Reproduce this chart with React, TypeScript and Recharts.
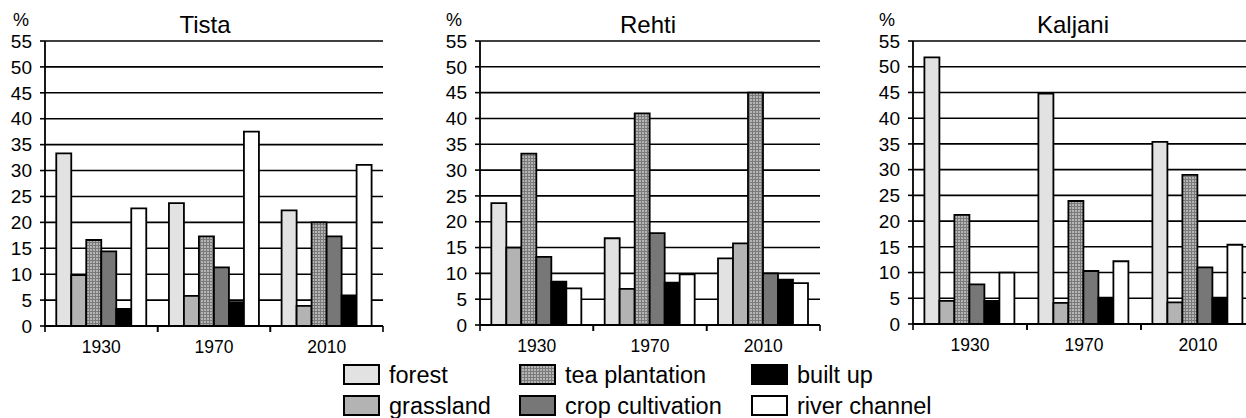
import React from 'react';
import { BarChart, Bar, XAxis, YAxis, CartesianGrid } from 'recharts';

const years = ['1930', '1970', '2010'];
const yTicks = [0, 5, 10, 15, 20, 25, 30, 35, 40, 45, 50, 55];

const seriesKeys = ['forest', 'grassland', 'tea', 'crop', 'built', 'river'];
const seriesLabels = ['forest', 'grassland', 'tea plantation', 'crop cultivation', 'built up', 'river channel'];

// Tista
const tistaForest = [33.3, 23.7, 22.3];
const tistaGrassland = [9.8, 5.8, 3.9];
const tistaTea = [16.6, 17.3, 20.0];
const tistaCrop = [14.4, 11.3, 17.3];
const tistaBuilt = [3.3, 4.6, 5.9];
const tistaRiver = [22.7, 37.5, 31.1];

// Rehti
const rehtiForest = [23.6, 16.8, 12.9];
const rehtiGrassland = [15.0, 7.0, 15.8];
const rehtiTea = [33.2, 41.0, 45.0];
const rehtiCrop = [13.2, 17.8, 10.0];
const rehtiBuilt = [8.4, 8.2, 8.8];
const rehtiRiver = [7.1, 9.8, 8.1];

// Kaljani
const kaljaniForest = [51.8, 44.8, 35.4];
const kaljaniGrassland = [4.5, 4.1, 4.2];
const kaljaniTea = [21.2, 23.9, 29.0];
const kaljaniCrop = [7.7, 10.3, 11.0];
const kaljaniBuilt = [4.5, 5.1, 5.1];
const kaljaniRiver = [10.0, 12.2, 15.4];

const build = (arrs: number[][]) =>
  years.map((y, i) => {
    const row: any = { year: y };
    seriesKeys.forEach((k, j) => {
      row[k] = arrs[j][i];
    });
    return row;
  });

const tistaData = build([tistaForest, tistaGrassland, tistaTea, tistaCrop, tistaBuilt, tistaRiver]);
const rehtiData = build([rehtiForest, rehtiGrassland, rehtiTea, rehtiCrop, rehtiBuilt, rehtiRiver]);
const kaljaniData = build([kaljaniForest, kaljaniGrassland, kaljaniTea, kaljaniCrop, kaljaniBuilt, kaljaniRiver]);

const FONT = '"Liberation Sans", Arial, sans-serif';
const fills = ['#e2e2e2', '#b3b3b3', 'TEA', '#777777', '#000000', '#ffffff'];

const XTick = (props: any) => {
  const { x, y, payload, half } = props;
  return (
    <g>
      <line x1={x - half} y1={y - 6} x2={x - half} y2={y} stroke="#000" strokeWidth={1.6} />
      <line x1={x + half} y1={y - 6} x2={x + half} y2={y} stroke="#000" strokeWidth={1.6} />
      <text x={x} y={y + 21} textAnchor="middle" fontSize={17.5} fill="#000" fontFamily={FONT}>
        {payload.value}
      </text>
    </g>
  );
};

const TeaPattern = ({ id }: { id: string }) => (
  <pattern id={id} width={3} height={3} patternUnits="userSpaceOnUse">
    <rect x={0} y={0} width={3} height={3} fill="#7a7a7a" />
    <rect x={0} y={0} width={2} height={2} fill="#b5b5b5" />
  </pattern>
);

type PanelProps = { data: any[]; axisX: number; plotW: number; zeroY: number; pid: string };

const Panel = ({ data, axisX, plotW, zeroY, pid }: PanelProps) => {
  const yw = 45;
  return (
    <div style={{ position: 'absolute', left: axisX - yw, top: 0 }}>
      <BarChart
        width={yw + plotW + 2}
        height={zeroY + 30}
        data={data}
        margin={{ top: 41, right: 2, left: 0, bottom: 0 }}
        barGap={0}
        barCategoryGap="10%"
      >
        <defs>
          <TeaPattern id={pid} />
        </defs>
        <CartesianGrid vertical={false} stroke="#000" strokeWidth={1.6} />
        <XAxis
          dataKey="year"
          height={30}
          axisLine={{ stroke: '#000', strokeWidth: 1.8 }}
          tickLine={false}
          tickSize={6}
          tickMargin={0}
          interval={0}
          tick={<XTick half={plotW / 6} />}
        />
        <YAxis
          width={yw}
          domain={[0, 55]}
          ticks={yTicks}
          interval={0}
          tickSize={5}
          tickMargin={8}
          axisLine={{ stroke: '#000', strokeWidth: 1.8 }}
          tickLine={{ stroke: '#000', strokeWidth: 1.6 }}
          tick={{ fill: '#000', fontSize: 19, fontFamily: FONT }}
        />
        <YAxis
          yAxisId="right"
          orientation="right"
          width={0}
          domain={[0, 55]}
          tick={false}
          tickLine={false}
          axisLine={{ stroke: '#000', strokeWidth: 1.8 }}
        />
        {seriesKeys.map((k, i) => (
          <Bar
            key={k}
            dataKey={k}
            fill={fills[i] === 'TEA' ? `url(#${pid})` : fills[i]}
            stroke="#000"
            strokeWidth={1.8}
            isAnimationActive={false}
          />
        ))}
      </BarChart>
    </div>
  );
};

const titles = [
  { text: 'Tista', cx: 205, px: 13 },
  { text: 'Rehti', cx: 648, px: 446 },
  { text: 'Kaljani', cx: 1073, px: 879 },
];

const legendCols = [344, 520, 752];

export default function App() {
  return (
    <div
      style={{
        position: 'absolute',
        left: 0,
        top: 0,
        width: 1246,
        height: 418,
        overflow: 'hidden',
        background: '#fff',
        fontFamily: FONT,
      }}
    >
      <Panel data={tistaData} axisX={45} plotW={338} zeroY={326} pid="teaA" />
      <Panel data={rehtiData} axisX={480} plotW={340} zeroY={325} pid="teaB" />
      <Panel data={kaljaniData} axisX={913} plotW={342} zeroY={324} pid="teaC" />
      <svg
        width={1246}
        height={418}
        style={{ position: 'absolute', left: 0, top: 0, pointerEvents: 'none' }}
      >
        <defs>
          <TeaPattern id="teaL" />
        </defs>
        {titles.map((t) => (
          <g key={t.text}>
            <text x={t.cx} y={33} textAnchor="middle" fontSize={24} fontFamily={FONT} fill="#000">
              {t.text}
            </text>
            <text x={t.px} y={26} fontSize={18} fontFamily={FONT} fill="#000">
              %
            </text>
          </g>
        ))}
        {seriesKeys.map((k, i) => {
          const col = Math.floor(i / 2);
          const row = i % 2;
          const bx = legendCols[col];
          const by = row === 0 ? 365 : 396;
          return (
            <g key={k}>
              <rect
                x={bx}
                y={by}
                width={35}
                height={19}
                fill={fills[i] === 'TEA' ? 'url(#teaL)' : fills[i]}
                stroke="#000"
                strokeWidth={2}
              />
              <text x={bx + 45} y={by + 18} fontSize={23.5} fontFamily={FONT} fill="#000">
                {seriesLabels[i]}
              </text>
            </g>
          );
        })}
      </svg>
    </div>
  );
}
